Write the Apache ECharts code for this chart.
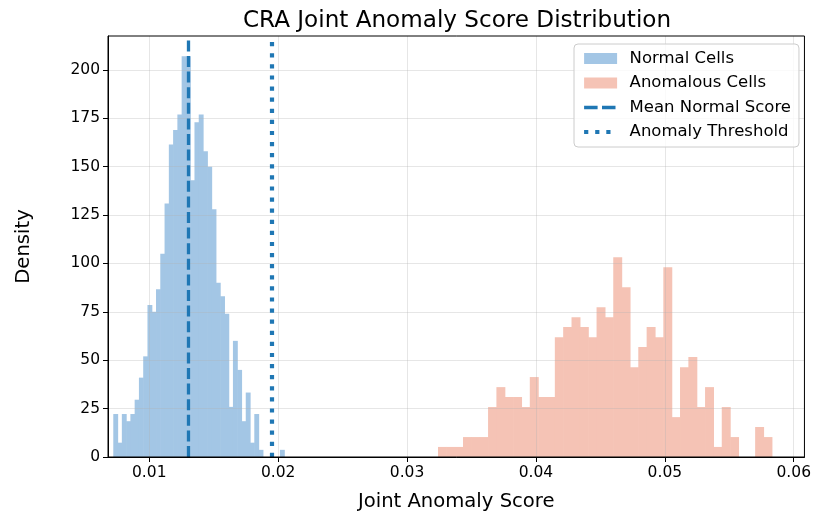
<!DOCTYPE html>
<html><head><meta charset="utf-8">
<script src="https://cdn.jsdelivr.net/npm/echarts@6/dist/echarts.min.js"></script>
<style>html,body{margin:0;padding:0;background:#fff}#c{width:814px;height:517px}</style>
</head><body><div id="c"></div>
<script>
const titleText = 'CRA Joint Anomaly Score Distribution';
const xName = 'Joint Anomaly Score';
const yName = 'Density';
const seriesNames = ['Normal Cells', 'Anomalous Cells', 'Mean Normal Score', 'Anomaly Threshold'];
const xTicks = [0.01, 0.02, 0.03, 0.04, 0.05, 0.06];
const yTicks = [0, 25, 50, 75, 100, 125, 150, 175, 200];
const xExtent = [0.0068, 0.06083];
const yExtent = [0, 217.5];

// histogram of normal cells: bin range and densities (40 equal bins)
const normalRange = [0.00721, 0.02047];
const normalDensity = [22.2, 7.4, 22.2, 18.5, 22.2, 29.6, 41, 52, 78.5, 75,
  86.6, 105, 131, 161.5, 169, 177, 207, 207, 143, 173,
  177, 158, 150, 128, 90, 83, 74, 25.9, 60, 45,
  18.5, 33.3, 7.4, 22.2, 3.7, 0, 0, 0, 0, 3.7];

// histogram of anomalous cells (40 equal bins)
const anomRange = [0.0324, 0.0583];
const anomDensity = [5.2, 5.2, 5.2, 10.3, 10.3, 10.3, 25.8, 36.1, 31, 31,
  25.8, 41.3, 31, 31, 61.9, 67.1, 72.2, 67.1, 61.9, 77.4,
  72.2, 103.2, 87.7, 46.4, 56.8, 67.1, 61.9, 98, 20.6, 46.4,
  51.6, 25.8, 36.1, 5.2, 25.8, 10.3, 0, 0, 15.5, 10.3];

const meanNormal = 0.01301;
const threshold = 0.01953;

const FONT = 'DejaVu Sans';
const normalColor = '#a3c6e5';
const anomColor = '#f5c3b5';
const lineColor = '#1f77b4';
const gridColor = 'rgba(176,176,176,0.32)';
const meanDash = [11, 4.6];
const threshDash = [4.2, 6.9];

function toBins(range, dens) {
  const w = (range[1] - range[0]) / dens.length;
  return dens.map((d, i) => [range[0] + i * w, range[0] + (i + 1) * w, d]);
}
function histRender(color) {
  return function (params, api) {
    const p0 = api.coord([api.value(0), api.value(2)]);
    const p1 = api.coord([api.value(1), 0]);
    return {
      type: 'rect',
      shape: { x: p0[0], y: p0[1], width: p1[0] - p0[0] + 0.6, height: p1[1] - p0[1] },
      style: { fill: color }
    };
  };
}

const chart = echarts.init(document.getElementById('c'), null, { renderer: 'canvas' });
chart.setOption({
  animation: false,
  backgroundColor: '#fff',
  textStyle: { fontFamily: FONT },
  title: {
    text: titleText, left: 452, top: 4, textAlign: 'center',
    textStyle: { fontFamily: FONT, fontSize: 23.1, fontWeight: 'normal', color: '#000' }
  },
  grid: { left: 108, right: 9, top: 36, bottom: 60, show: true, borderColor: '#000', borderWidth: 1, z: 10, backgroundColor: 'transparent' },
  legend: {
    orient: 'vertical', left: 574, top: 44,
    padding: [5.5, 8, 6, 8], itemWidth: 33, itemHeight: 11, itemGap: 6.5,
    backgroundColor: 'rgba(255,255,255,0.8)', borderColor: '#cccccc', borderWidth: 1, borderRadius: 4,
    textStyle: { fontFamily: FONT, fontSize: 16.5, color: '#000', lineHeight: 18, padding: [0, 0, 0, 7.5] },
    data: [
      { name: seriesNames[0], icon: 'rect', itemStyle: { color: normalColor } },
      { name: seriesNames[1], icon: 'rect', itemStyle: { color: anomColor } },
      { name: seriesNames[2], itemStyle: { color: 'rgba(0,0,0,0)', borderWidth: 0, opacity: 0 },
        lineStyle: { color: lineColor, width: 3.3, type: [13.5, 4.4] } },
      { name: seriesNames[3], itemStyle: { color: 'rgba(0,0,0,0)', borderWidth: 0, opacity: 0 },
        lineStyle: { color: lineColor, width: 4.2, type: threshDash } }
    ],
    z: 20
  },
  xAxis: {
    type: 'value', min: xExtent[0], max: xExtent[1],
    name: xName, nameLocation: 'middle', nameGap: 35,
    nameTextStyle: { fontFamily: FONT, fontSize: 19.6, color: '#000' },
    axisLine: { show: true, onZero: false, lineStyle: { color: '#000', width: 1 } },
    axisTick: { show: true, length: 5, customValues: xTicks, lineStyle: { color: '#000', width: 1 } },
    axisLabel: { customValues: xTicks, fontFamily: FONT, fontSize: 15.5, color: '#000', margin: 8, formatter: v => v.toFixed(2) },
    splitLine: { show: false },
    z: 10
  },
  yAxis: {
    type: 'value', min: yExtent[0], max: yExtent[1],
    name: yName, nameLocation: 'middle', nameGap: 74, nameRotate: 90,
    nameTextStyle: { fontFamily: FONT, fontSize: 19.6, color: '#000' },
    axisLine: { show: true, lineStyle: { color: '#000', width: 1 } },
    axisTick: { show: true, length: 5, customValues: yTicks, lineStyle: { color: '#000', width: 1 } },
    axisLabel: { customValues: yTicks, fontFamily: FONT, fontSize: 15.5, color: '#000', margin: 8 },
    splitLine: { show: false },
    z: 10
  },
  series: [
    {
      name: seriesNames[0], type: 'custom', renderItem: histRender(normalColor),
      itemStyle: { color: normalColor },
      encode: { x: [0, 1], y: 2 }, data: toBins(normalRange, normalDensity), z: 2
    },
    {
      name: seriesNames[1], type: 'custom', renderItem: histRender(anomColor),
      itemStyle: { color: anomColor },
      encode: { x: [0, 1], y: 2 }, data: toBins(anomRange, anomDensity), z: 2
    },
    {
      name: '_grid', type: 'line', data: [], z: 3, silent: true,
      markLine: {
        silent: true, symbol: ['none', 'none'], label: { show: false }, precision: 8,
        lineStyle: { color: gridColor, width: 1, type: 'solid' },
        emphasis: { disabled: true },
        data: xTicks.map(v => ({ xAxis: v })).concat(yTicks.slice(1).map(v => ({ yAxis: v })))
      }
    },
    {
      name: seriesNames[2], type: 'line', data: [], z: 5, symbol: 'none',
      itemStyle: { color: lineColor },
      lineStyle: { color: lineColor, width: 3.3, type: meanDash },
      markLine: {
        silent: true, symbol: ['none', 'none'], label: { show: false }, precision: 8,
        lineStyle: { color: lineColor, width: 3.3, type: meanDash },
        emphasis: { disabled: true },
        data: [{ xAxis: meanNormal }]
      }
    },
    {
      name: seriesNames[3], type: 'line', data: [], z: 5, symbol: 'none',
      itemStyle: { color: lineColor },
      lineStyle: { color: lineColor, width: 4.2, type: threshDash },
      markLine: {
        silent: true, symbol: ['none', 'none'], label: { show: false }, precision: 8,
        lineStyle: { color: lineColor, width: 4.2, type: threshDash },
        emphasis: { disabled: true },
        data: [{ xAxis: threshold }]
      }
    }
  ]
});
</script>
</body></html>
